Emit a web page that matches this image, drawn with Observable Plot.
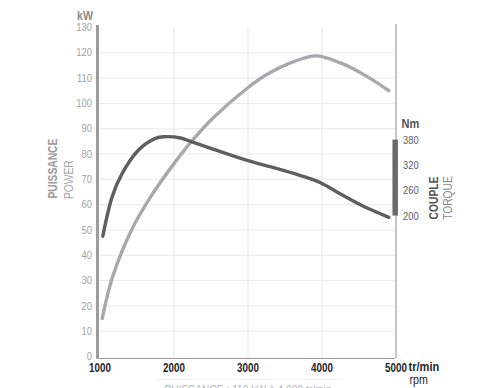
<!DOCTYPE html>
<html>
<head>
<meta charset="utf-8">
<script src="https://cdn.jsdelivr.net/npm/d3@7"></script>
<script src="https://cdn.jsdelivr.net/npm/@observablehq/plot@0.6"></script>
<style>
  html, body { margin: 0; padding: 0; background: #fff; }
  #chart svg { display: block; }
</style>
</head>
<body>
<div id="chart"></div>
<script>
// ---- data ----
const rpmPower = [1030, 1165, 1426, 1682, 2020, 2223, 2538, 2989, 3259, 3574, 3912, 4250, 4611, 4903];
const powerKW  = [15.0, 31.0, 50.0, 63.0, 77.0, 84.5, 94.5, 106.0, 111.5, 116.0, 118.8, 116.0, 110.6, 105.0];

const rpmTorque = [1038, 1165, 1300, 1524, 1750, 1862, 2088, 2223, 2538, 2989, 3439, 3709, 3980, 4250, 4560, 4903];
const torqueNm  = [152, 246, 301, 357, 384, 388, 385, 377, 358, 332, 310, 296, 279, 252, 223, 197];

const powerTicks  = [0, 10, 20, 30, 40, 50, 60, 70, 80, 90, 100, 110, 120, 130];
const gridTicks   = [10, 20, 30, 40, 50, 60, 70, 80, 90, 100, 110, 120];
const torqueTicks = [200, 260, 320, 380];
const rpmTicks    = [1000, 2000, 3000, 4000, 5000];
const rpmGrid     = [2000, 3000, 4000];

const powerTitle = ["PUISSANCE", "POWER"];
const torqueTitle = ["COUPLE", "TORQUE"];
const caption = "PUISSANCE : 118 kW à 4 000 tr/min";

// secondary (torque) axis is drawn on the power scale: 6 Nm per kW unit, 200 Nm at 55.5
const tq = t => 55.5 + (t - 200) / 6;

const power = rpmPower.map((r, i) => ({rpm: r, v: powerKW[i]}));
const torque = rpmTorque.map((r, i) => ({rpm: r, v: tq(torqueNm[i])}));

const FONT = "'Liberation Sans', Arial, sans-serif";

const chart = Plot.plot({
  width: 500,
  height: 388,
  marginLeft: 99.5,
  marginRight: 104.5,
  marginTop: 27,
  marginBottom: 32,
  style: {fontFamily: FONT, background: "#fff", overflow: "hidden"},
  x: {domain: [1000, 5000]},
  y: {domain: [0, 130]},
  marks: [
    // grid
    Plot.ruleY(gridTicks, {stroke: "#ebebeb", strokeWidth: 1}),
    Plot.ruleX(rpmGrid, {stroke: "#e6e6e6", strokeWidth: 1, insetBottom: -2}),
    // frame lines
    Plot.ruleX([1000], {stroke: "#9c9c9c", strokeWidth: 3, dx: -2.5, insetTop: -2, insetBottom: -2}),
    Plot.ruleY([0], {stroke: "#9a9a9a", strokeWidth: 1, dy: 2, insetLeft: -3}),
    Plot.ruleX([5000], {stroke: "#8a8a8a", strokeWidth: 1, insetTop: -3, insetBottom: -2}),
    // torque scale bar
    Plot.ruleX([5000], {y1: tq(200), y2: tq(380), stroke: "#6a6a6a", strokeWidth: 5.5, dx: -0.8}),
    // curves
    Plot.line(power, {x: "rpm", y: "v", stroke: "#a9a8ad", strokeWidth: 3.4, curve: "catmull-rom"}),
    Plot.line(torque, {x: "rpm", y: "v", stroke: "#5f5f61", strokeWidth: 3.4, curve: "catmull-rom"}),
    // axes
    Plot.axisY({ticks: powerTicks, tickSize: 0, tickPadding: 8, label: null, fontSize: 11.5, color: "#a2a2a2"}),
    Plot.axisX({ticks: rpmTicks, tickSize: 0, tickPadding: 7, label: null, fontSize: 12, fontWeight: "bold", color: "#262626", tickFormat: d => String(d)}),
    Plot.axisY({anchor: "right", ticks: torqueTicks.map(tq), tickFormat: v => String(Math.round((v - 55.5) * 6 + 200)), tickSize: 0, tickPadding: 7, label: null, fontSize: 11.5, color: "#5e5e5e"}),
    // unit labels
    Plot.text(["kW"], {frameAnchor: "top-left", dx: -7, dy: -17, textAnchor: "end", fontSize: 13, fontWeight: "bold", fill: "#8c8c8c"}),
    Plot.text(["Nm"], {x: 5000, y: tq(380), dx: 5.5, dy: -16, textAnchor: "start", fontSize: 13.5, fontWeight: "bold", fill: "#555"}),
    Plot.text(["tr/min"], {x: 5000, y: 0, dx: 12.5, dy: 10.5, textAnchor: "start", fontSize: 13.5, fontWeight: "bold", fill: "#262626"}),
    Plot.text(["rpm"], {x: 5000, y: 0, dx: 13.5, dy: 23, textAnchor: "start", fontSize: 13, fill: "#262626"}),
    // rotated titles
    Plot.text([powerTitle[0]], {frameAnchor: "left", dx: -47, dy: 6.5, rotate: -90, fontSize: 12.5, fontWeight: "bold", fill: "#9a9a9a"}),
    Plot.text([powerTitle[1]], {frameAnchor: "left", dx: -31.5, dy: 7, rotate: -90, fontSize: 12.5, fill: "#a6a6a6"}),
    Plot.text([torqueTitle[0]], {x: 5000, y: tq(200), dx: 37.5, dy: -18, rotate: -90, fontSize: 12.5, fontWeight: "bold", fill: "#555"}),
    Plot.text([torqueTitle[1]], {x: 5000, y: tq(200), dx: 51.5, dy: -18, rotate: -90, fontSize: 12.5, fill: "#8a8a8a"}),
    // faint separator and clipped caption
    Plot.ruleY([0], {dy: 23, stroke: "#f0f0f0", insetLeft: 58, insetRight: 52}),
    Plot.text([caption], {frameAnchor: "bottom", dy: 37, fontSize: 12.5, fill: "#b8b8b8"})
  ]
});

// condensed lettering like the reference: narrow every text horizontally around its anchor
d3.select(chart).selectAll("text").each(function () {
  const t = this.getAttribute("transform") || "";
  this.setAttribute("transform", (t + " scale(0.82,1)").trim());
});

document.getElementById("chart").appendChild(chart);
</script>
</body>
</html>
